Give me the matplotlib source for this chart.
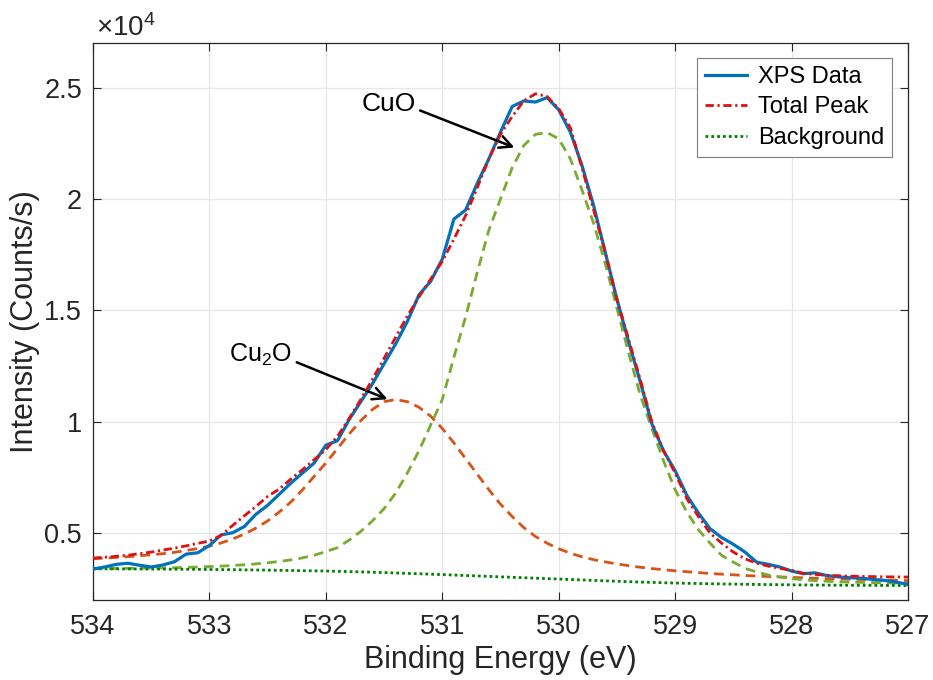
import matplotlib
matplotlib.use("Agg")
import matplotlib.pyplot as plt

plt.rcParams['font.family'] = ['Liberation Sans', 'DejaVu Sans']
plt.rcParams['mathtext.fontset'] = 'custom'
plt.rcParams['mathtext.rm'] = 'Liberation Sans'
plt.rcParams['mathtext.it'] = 'Liberation Sans:italic'

# Binding energy grid (eV), 534.0 -> 527.0 in 0.1 eV steps
energy = [round(534.0 - 0.1 * i, 1) for i in range(71)]

xps_data = [3390, 3480, 3600, 3650, 3560, 3480, 3570, 3720, 4060, 4120,
            4450, 4920, 5020, 5300, 5850, 6250, 6750, 7250, 7700, 8150,
            8950, 9150, 10100, 10900, 11700, 12600, 13500, 14500, 15700, 16300,
            17300, 19100, 19500, 20700, 21800, 23000, 24150, 24400, 24350, 24550,
            24000, 23000, 21500, 19700, 17600, 15500, 13600, 11800, 9900, 8700,
            7800, 6700, 5900, 5200, 4800, 4500, 4150, 3700, 3600, 3480,
            3300, 3180, 3220, 3100, 3040, 3000, 2980, 2920, 2880, 2800,
            2700]

total_peak = [3880, 3920, 3960, 4010, 4080, 4150, 4240, 4330, 4430, 4540,
              4650, 4900, 5350, 5780, 6200, 6650, 6980, 7430, 7850, 8300,
              8750, 9350, 10150, 11000, 11900, 12850, 13800, 14750, 15600, 16400,
              17200, 18200, 19250, 20500, 21800, 22900, 23700, 24400, 24720, 24600,
              24050, 23200, 21400, 19500, 17600, 15500, 13700, 11900, 10000, 8700,
              7700, 6550, 5750, 5000, 4550, 4150, 3850, 3650, 3520, 3420,
              3330, 3200, 3150, 3110, 3090, 3070, 3060, 3050, 3040, 3035,
              3030]

cu2o_peak = [3850, 3880, 3910, 3945, 3985, 4030, 4080, 4140, 4220, 4310,
             4420, 4560, 4740, 4960, 5230, 5550, 5950, 6400, 6950, 7550,
             8150, 8800, 9450, 10050, 10550, 10900, 11000, 10900, 10650, 10250,
             9700, 9050, 8350, 7650, 6950, 6300, 5750, 5250, 4850, 4550,
             4300, 4100, 3940, 3810, 3710, 3620, 3540, 3470, 3410, 3360,
             3310, 3270, 3230, 3190, 3160, 3130, 3100, 3075, 3055, 3035,
             3015, 2995, 2975, 2960, 2945, 2930, 2920, 2905, 2895, 2885,
             2870]

cuo_peak = [3410, 3412, 3415, 3418, 3422, 3430, 3440, 3450, 3465, 3480,
            3500, 3520, 3550, 3580, 3620, 3670, 3730, 3800, 3890, 4010,
            4170, 4350, 4690, 5080, 5550, 6100, 6800, 7700, 8700, 9850,
            11000, 12900, 14700, 16700, 18600, 20000, 21400, 22400, 22900, 22980,
            22700, 21800, 20400, 18900, 17100, 15100, 13100, 11200, 9700, 8250,
            6950, 5950, 5150, 4550, 4000, 3700, 3420, 3260, 3120, 3030,
            2960, 2910, 2870, 2840, 2820, 2800, 2790, 2780, 2770, 2760,
            2750]

background = [3400, 3398, 3396, 3394, 3392, 3390, 3386, 3382, 3378, 3374,
              3370, 3365, 3360, 3354, 3347, 3340, 3332, 3324, 3316, 3308,
              3300, 3288, 3275, 3262, 3247, 3230, 3213, 3195, 3178, 3160,
              3140, 3120, 3100, 3080, 3060, 3040, 3020, 3000, 2980, 2960,
              2940, 2920, 2900, 2880, 2860, 2840, 2822, 2805, 2790, 2775,
              2760, 2750, 2740, 2730, 2720, 2712, 2705, 2698, 2692, 2686,
              2680, 2676, 2672, 2668, 2664, 2660, 2658, 2656, 2654, 2652,
              2650]

xticks = [534, 533, 532, 531, 530, 529, 528, 527]
xtick_labels = ['534', '533', '532', '531', '530', '529', '528', '527']
yticks = [5000, 10000, 15000, 20000, 25000]
ytick_labels = ['0.5', '1', '1.5', '2', '2.5']

fig = plt.figure(figsize=(9.33, 6.80), dpi=100)
ax = fig.add_axes([93/933, 1 - 600/680, 815/933, 557/680])

ax.plot(energy, cu2o_peak, color='#D95319', lw=2.0, ls=(0, (3.5, 2.2)), zorder=2)
ax.plot(energy, cuo_peak, color='#77AC30', lw=2.0, ls=(0, (3.5, 2.2)), zorder=2)
l_bg, = ax.plot(energy, background, color='#008000', lw=2.0, ls=(0, (1, 1.1)), zorder=2)
l_data, = ax.plot(energy, xps_data, color='#0072BD', lw=2.3, zorder=3)
l_tot, = ax.plot(energy, total_peak, color='#E01010', lw=2.0,
                 ls=(0, (3, 1.3, 0.8, 1.3)), zorder=4)

ax.set_xlim(534, 527)
ax.set_ylim(2000, 27000)
ax.set_xticks(xticks)
ax.set_xticklabels(xtick_labels)
ax.set_yticks(yticks)
ax.set_yticklabels(ytick_labels)
ax.grid(True, color='#e6e6e6', lw=0.9)
ax.set_axisbelow(True)
ax.tick_params(direction='in', length=6, width=0.8, colors='#262626',
               labelsize=19.5, top=True, right=True)
ax.tick_params(axis='x', pad=10)
ax.tick_params(axis='y', pad=8)
for tl in ax.get_xticklabels() + ax.get_yticklabels():
    tl.set_color('#262626')
for s in ax.spines.values():
    s.set_color('#262626')
    s.set_linewidth(0.9)

ax.set_xlabel('Binding Energy (eV)', fontsize=22, color='#262626', labelpad=4)
ax.set_ylabel('Intensity (Counts/s)', fontsize=22, color='#262626', labelpad=3)
ax.text(0.004, 1.012, r'$\times$10$^{4}$', transform=ax.transAxes,
        fontsize=20, color='#262626', ha='left', va='baseline')

leg = ax.legend([l_data, l_tot, l_bg], ['XPS Data', 'Total Peak', 'Background'],
                loc='upper right', bbox_to_anchor=(0.980, 0.973), fontsize=17,
                fancybox=False, framealpha=1, edgecolor='#7f7f7f',
                handlelength=1.8, borderpad=0.33, labelspacing=0.36,
                handletextpad=0.45, borderaxespad=0.0)
leg.get_frame().set_linewidth(0.8)

ax.text(531.46, 24283, 'CuO', fontsize=19, ha='center', va='center', color='black')
ax.annotate('', xy=(530.38, 22310), xytext=(531.19, 23969),
            arrowprops=dict(arrowstyle='->', color='black', lw=1.8,
                            mutation_scale=22, shrinkA=0, shrinkB=0))
ax.text(532.56, 12983, 'Cu$_\\mathrm{2}$O', fontsize=18, ha='center', va='center', color='black')
ax.annotate('', xy=(531.47, 11010), xytext=(532.25, 12669),
            arrowprops=dict(arrowstyle='->', color='black', lw=1.8,
                            mutation_scale=22, shrinkA=0, shrinkB=0))

fig.savefig('out.png', dpi=100)
